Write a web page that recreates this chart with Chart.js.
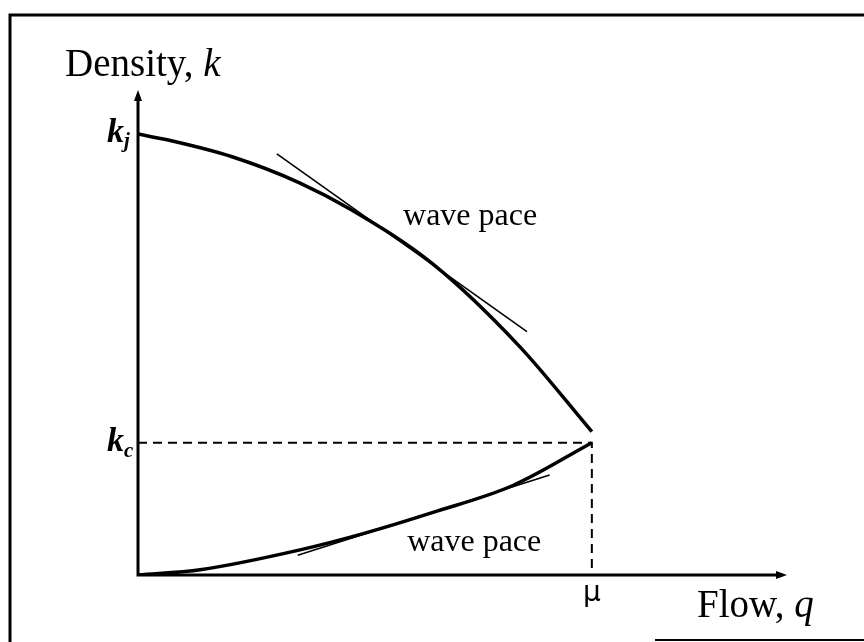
<!DOCTYPE html>
<html>
<head>
<meta charset="utf-8">
<script src="https://cdn.jsdelivr.net/npm/chart.js@4.4.0/dist/chart.umd.min.js"></script>
<style>
  html, body { margin: 0; padding: 0; background: #fff; }
  #wrap { width: 864px; height: 642px; position: relative; }
</style>
</head>
<body>
<div id="wrap"><canvas id="fd-chart"></canvas></div>
<script>
// flow q and density k, scaled so that mu = 1 and k_j = 1
const qMax = 1.43;
const kMax = 1.10;
const mu = 1.0;
const kJam = 1.0;
const kCrit = 0.30;

// congested branch: from jam density down to capacity
const congestedQ = [0, 0.064, 0.209, 0.357, 0.467, 0.65, 0.841, 1.0];
const congestedK = [1.0, 0.987, 0.948, 0.889, 0.830, 0.705, 0.518, 0.325];

// free-flow branch: from the origin up to capacity
const freeQ = [0, 0.137, 0.357, 0.5, 0.65, 0.826, 1.0];
const freeK = [0, 0.012, 0.057, 0.095, 0.142, 0.203, 0.300];

// tangent segments (wave speed)
const upperTangentQ = [0.306, 0.857];
const upperTangentK = [0.955, 0.552];
const lowerTangentQ = [0.352, 0.907];
const lowerTangentK = [0.045, 0.227];

// text labels placed in data space
const waveLabels = [
    { text: 'wave pace', q: 0.584, k: 0.812 },
    { text: 'wave pace', q: 0.593, k: 0.073 }
];

const toPoints = (xs, ys) => xs.map((x, i) => ({ x: x, y: ys[i] }));

const ink = '#000';
const serif = '"Liberation Serif", "DejaVu Serif", serif';

// frame, axes with arrowheads and all the text
const diagramPlugin = {
    id: 'diagram',
    beforeDraw(chart) {
        const ctx = chart.ctx;
        ctx.save();
        ctx.fillStyle = '#fff';
        ctx.fillRect(0, 0, chart.width, chart.height);
        ctx.strokeStyle = ink;
        ctx.lineWidth = 3;
        ctx.beginPath();
        ctx.moveTo(10, chart.height);
        ctx.lineTo(10, 15);
        ctx.lineTo(chart.width, 15);
        ctx.stroke();
        ctx.lineWidth = 2;
        ctx.beginPath();
        ctx.moveTo(655, 640);
        ctx.lineTo(chart.width, 640);
        ctx.stroke();
        ctx.restore();
    },
    afterDatasetsDraw(chart) {
        const ctx = chart.ctx;
        const xs = chart.scales.x;
        const ys = chart.scales.y;
        const x0 = xs.getPixelForValue(0);
        const y0 = ys.getPixelForValue(0);
        const xEnd = xs.getPixelForValue(qMax);
        const yEnd = ys.getPixelForValue(kMax);

        ctx.save();
        ctx.strokeStyle = ink;
        ctx.fillStyle = ink;
        ctx.lineWidth = 3;
        ctx.lineCap = 'square';
        ctx.beginPath();
        ctx.moveTo(x0, yEnd + 6);
        ctx.lineTo(x0, y0);
        ctx.lineTo(xEnd - 6, y0);
        ctx.stroke();

        // arrowheads
        ctx.beginPath();
        ctx.moveTo(x0, yEnd);
        ctx.lineTo(x0 - 4, yEnd + 11);
        ctx.lineTo(x0 + 4, yEnd + 11);
        ctx.closePath();
        ctx.fill();
        ctx.beginPath();
        ctx.moveTo(xEnd, y0);
        ctx.lineTo(xEnd - 11, y0 - 4);
        ctx.lineTo(xEnd - 11, y0 + 4);
        ctx.closePath();
        ctx.fill();

        // axis titles
        ctx.textBaseline = 'alphabetic';
        ctx.textAlign = 'left';
        ctx.font = '39px ' + serif;
        const dens = 'Density, ';
        ctx.fillText(dens, x0 - 73, yEnd - 14);
        const dw = ctx.measureText(dens).width;
        ctx.font = 'italic 39px ' + serif;
        ctx.fillText('k', x0 - 73 + dw, yEnd - 14);

        ctx.font = '39px ' + serif;
        const flow = 'Flow, ';
        ctx.fillText(flow, 697, y0 + 42);
        const fw = ctx.measureText(flow).width;
        ctx.font = 'italic 39px ' + serif;
        ctx.fillText('q', 697 + fw, y0 + 42);

        // k_j and k_c marks on the density axis
        const kLabel = (sub, val, subY) => {
            const py = ys.getPixelForValue(val);
            ctx.font = 'bold italic 34px ' + serif;
            ctx.textAlign = 'left';
            ctx.fillText('k', x0 - 31, py + 8);
            ctx.font = 'bold italic 21px ' + serif;
            ctx.fillText(sub, x0 - 14, py + subY);
        };
        kLabel('j', kJam, 13);
        kLabel('c', kCrit, 14);

        // mu under the flow axis
        ctx.font = '28px "DejaVu Sans", sans-serif';
        ctx.textAlign = 'center';
        ctx.fillText('\u03bc', xs.getPixelForValue(mu), y0 + 26);

        // wave pace labels
        ctx.font = '32px ' + serif;
        ctx.textAlign = 'left';
        ctx.textBaseline = 'middle';
        waveLabels.forEach(l => {
            ctx.fillText(l.text, xs.getPixelForValue(l.q), ys.getPixelForValue(l.k));
        });
        ctx.restore();
    }
};

const curveStyle = {
    showLine: true,
    pointRadius: 0,
    borderColor: ink,
    borderWidth: 3.5,
    cubicInterpolationMode: 'monotone',
    fill: false
};

new Chart(document.getElementById('fd-chart'), {
    type: 'scatter',
    data: {
        datasets: [
            Object.assign({ label: 'congested', data: toPoints(congestedQ, congestedK) }, curveStyle),
            Object.assign({ label: 'free flow', data: toPoints(freeQ, freeK) }, curveStyle),
            { label: 'tangent upper', data: toPoints(upperTangentQ, upperTangentK), showLine: true, pointRadius: 0, borderColor: ink, borderWidth: 1.6 },
            { label: 'tangent lower', data: toPoints(lowerTangentQ, lowerTangentK), showLine: true, pointRadius: 0, borderColor: ink, borderWidth: 1.6 },
            { label: 'critical', data: [{ x: 0, y: kCrit }, { x: mu, y: kCrit }, { x: mu, y: 0 }], showLine: true, pointRadius: 0, borderColor: ink, borderWidth: 2, borderDash: [9, 6], tension: 0 }
        ]
    },
    options: {
        responsive: true,
        maintainAspectRatio: false,
        animation: false,
        layout: { padding: { left: 138, top: 90, right: 77, bottom: 67 } },
        plugins: {
            legend: { display: false },
            tooltip: { enabled: false }
        },
        scales: {
            x: { type: 'linear', min: 0, max: qMax, display: false },
            y: { type: 'linear', min: 0, max: kMax, display: false }
        }
    },
    plugins: [diagramPlugin]
});
</script>
</body>
</html>
